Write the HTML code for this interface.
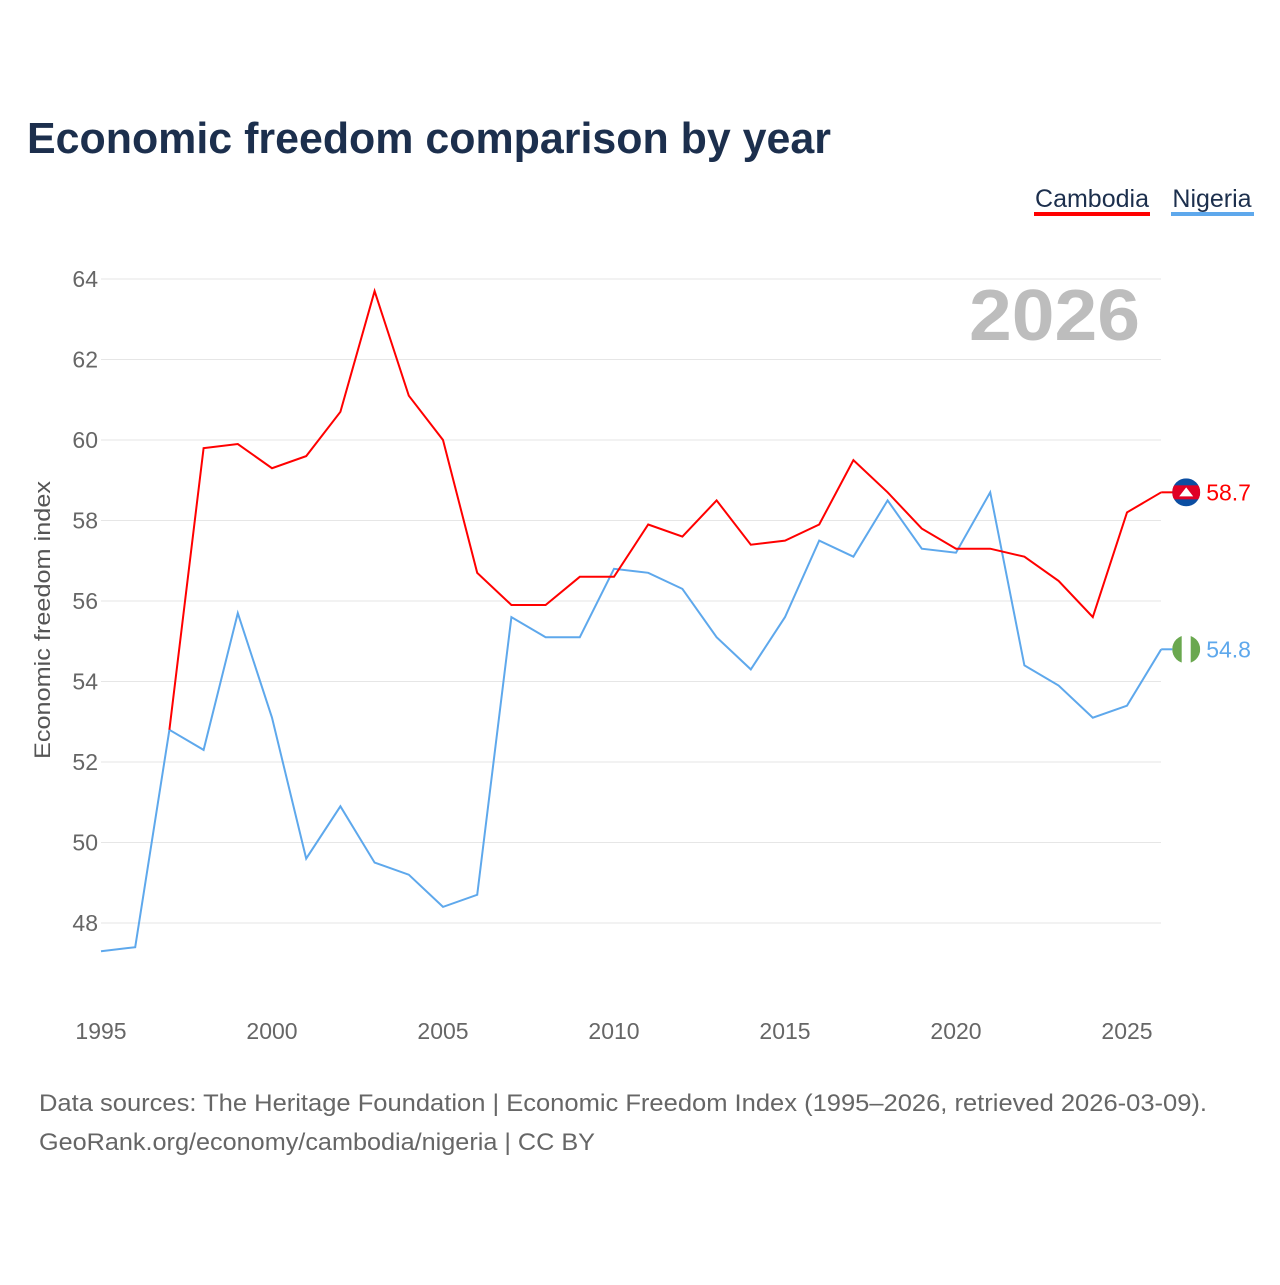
<!DOCTYPE html>
<html><head><meta charset="utf-8"><style>
body{margin:0;background:#fff;font-family:"Liberation Sans",sans-serif}
svg text{font-family:"Liberation Sans",sans-serif}
</style></head><body>
<svg id="chart" width="1280" height="1280" viewBox="0 0 1280 1280" xmlns="http://www.w3.org/2000/svg">
<rect width="1280" height="1280" fill="#fff"/>
<text x="27" y="153" font-size="44" font-weight="bold" fill="#1c2f4d" textLength="804" lengthAdjust="spacingAndGlyphs">Economic freedom comparison by year</text>
<g>
<text x="1092" y="207" font-size="25" fill="#1c2f4d" text-anchor="middle">Cambodia</text>
<rect x="1034" y="212" width="116" height="4" fill="#ff0000"/></g>
<g>
<text x="1212" y="207" font-size="25" fill="#1c2f4d" text-anchor="middle">Nigeria</text>
<rect x="1171" y="212" width="83" height="4" fill="#5ea8ec"/></g>
<text x="969" y="340" font-size="72" font-weight="bold" fill="#bdbdbd" textLength="171" lengthAdjust="spacingAndGlyphs">2026</text>
<text transform="translate(50,620) rotate(-90)" font-size="22" fill="#555" text-anchor="middle" textLength="278" lengthAdjust="spacingAndGlyphs">Economic freedom index</text>
<g id="grid"></g><g id="xt"></g><g id="lines"></g><g id="ends"></g>
<text x="39" y="1111" font-size="24" fill="#666" textLength="1168" lengthAdjust="spacingAndGlyphs">Data sources: The Heritage Foundation | Economic Freedom Index (1995–2026, retrieved 2026-03-09).</text>
<text x="39" y="1150" font-size="24" fill="#666" textLength="556" lengthAdjust="spacingAndGlyphs">GeoRank.org/economy/cambodia/nigeria | CC BY</text>
</svg>
<script>
const years=[1995,1996,1997,1998,1999,2000,2001,2002,2003,2004,2005,2006,2007,2008,2009,2010,2011,2012,2013,2014,2015,2016,2017,2018,2019,2020,2021,2022,2023,2024,2025,2026];
const cambodia=[null,null,52.8,59.8,59.9,59.3,59.6,60.7,63.7,61.1,60.0,56.7,55.9,55.9,56.6,56.6,57.9,57.6,58.5,57.4,57.5,57.9,59.5,58.7,57.8,57.3,57.3,57.1,56.5,55.6,58.2,58.7];
const nigeria=[47.3,47.4,52.8,52.3,55.7,53.1,49.6,50.9,49.5,49.2,48.4,48.7,55.6,55.1,55.1,56.8,56.7,56.3,55.1,54.3,55.6,57.5,57.1,58.5,57.3,57.2,58.7,54.4,53.9,53.1,53.4,54.8];
const yTicks=[48,50,52,54,56,58,60,62,64];
const xTicks=[1995,2000,2005,2010,2015,2020,2025];
const NS="http://www.w3.org/2000/svg";
const x=v=>101+(v-1995)*(1127-101)/30;
const y=v=>923-(v-48)*(923-279)/16;
function mk(t,a,p){const e=document.createElementNS(NS,t);for(const k in a)e.setAttribute(k,a[k]);document.getElementById(p).appendChild(e);return e;}
yTicks.forEach(v=>{
 const l=mk('line',{x1:101,x2:1161,y1:y(v),y2:y(v),stroke:'#e6e6e6','stroke-width':1},'grid');
 
 
 const t=mk('text',{x:98,y:y(v)+8,'font-size':23,fill:'#666','text-anchor':'end'},'grid');t.textContent=v;
 
 
});
xTicks.forEach(v=>{
 const t=mk('text',{x:x(v),y:1039,'font-size':23,fill:'#666','text-anchor':'middle'},'xt');t.textContent=v;
 
 
});
function line(vals,c,n){
 let d='';vals.forEach((v,i)=>{if(v==null)return;d+=(d?'L':'M')+x(years[i]).toFixed(1)+','+y(v).toFixed(1);});
 const p=mk('path',{d:d,fill:'none',stroke:c,'stroke-width':2},'lines');
 
 
}
line(nigeria,'#5ea8ec','nigeria-line');
line(cambodia,'#ff0000','cambodia-line');
function end(vals,c,n,flag){
 const v=vals[vals.length-1],yy=y(v),xx=x(years[years.length-1]);
 const g=mk('g',{},'ends');
 
 
 g.innerHTML=`<line x1="${xx}" x2="${xx+12}" y1="${yy}" y2="${yy}" stroke="${c}" stroke-width="2"/>`+flag(xx+25,yy)+
 `<text x="${xx+45}" y="${yy+8}" font-size="23" fill="${c}">${v.toFixed(1)}</text>`;
}
end(cambodia,'#ff0000','cambodia-end-label',(cx,cy)=>`<clipPath id="cc"><circle cx="${cx}" cy="${cy}" r="14"/></clipPath><g clip-path="url(#cc)"><rect x="${cx-14}" y="${cy-14}" width="28" height="28" fill="#0b4ea2"/><rect x="${cx-14}" y="${cy-7}" width="28" height="14" fill="#e00025"/><path d="M${cx-7},${cy+4}L${cx},${cy-5}L${cx+7},${cy+4}Z" fill="#fff"/></g>`);
end(nigeria,'#5ea8ec','nigeria-end-label',(cx,cy)=>`<clipPath id="nc"><circle cx="${cx}" cy="${cy}" r="14"/></clipPath><g clip-path="url(#nc)"><rect x="${cx-14}" y="${cy-14}" width="28" height="28" fill="#fff"/><rect x="${cx-14}" y="${cy-14}" width="9.5" height="28" fill="#6aa84f"/><rect x="${cx+4.5}" y="${cy-14}" width="9.5" height="28" fill="#6aa84f"/></g>`);
</script>
</body></html>
